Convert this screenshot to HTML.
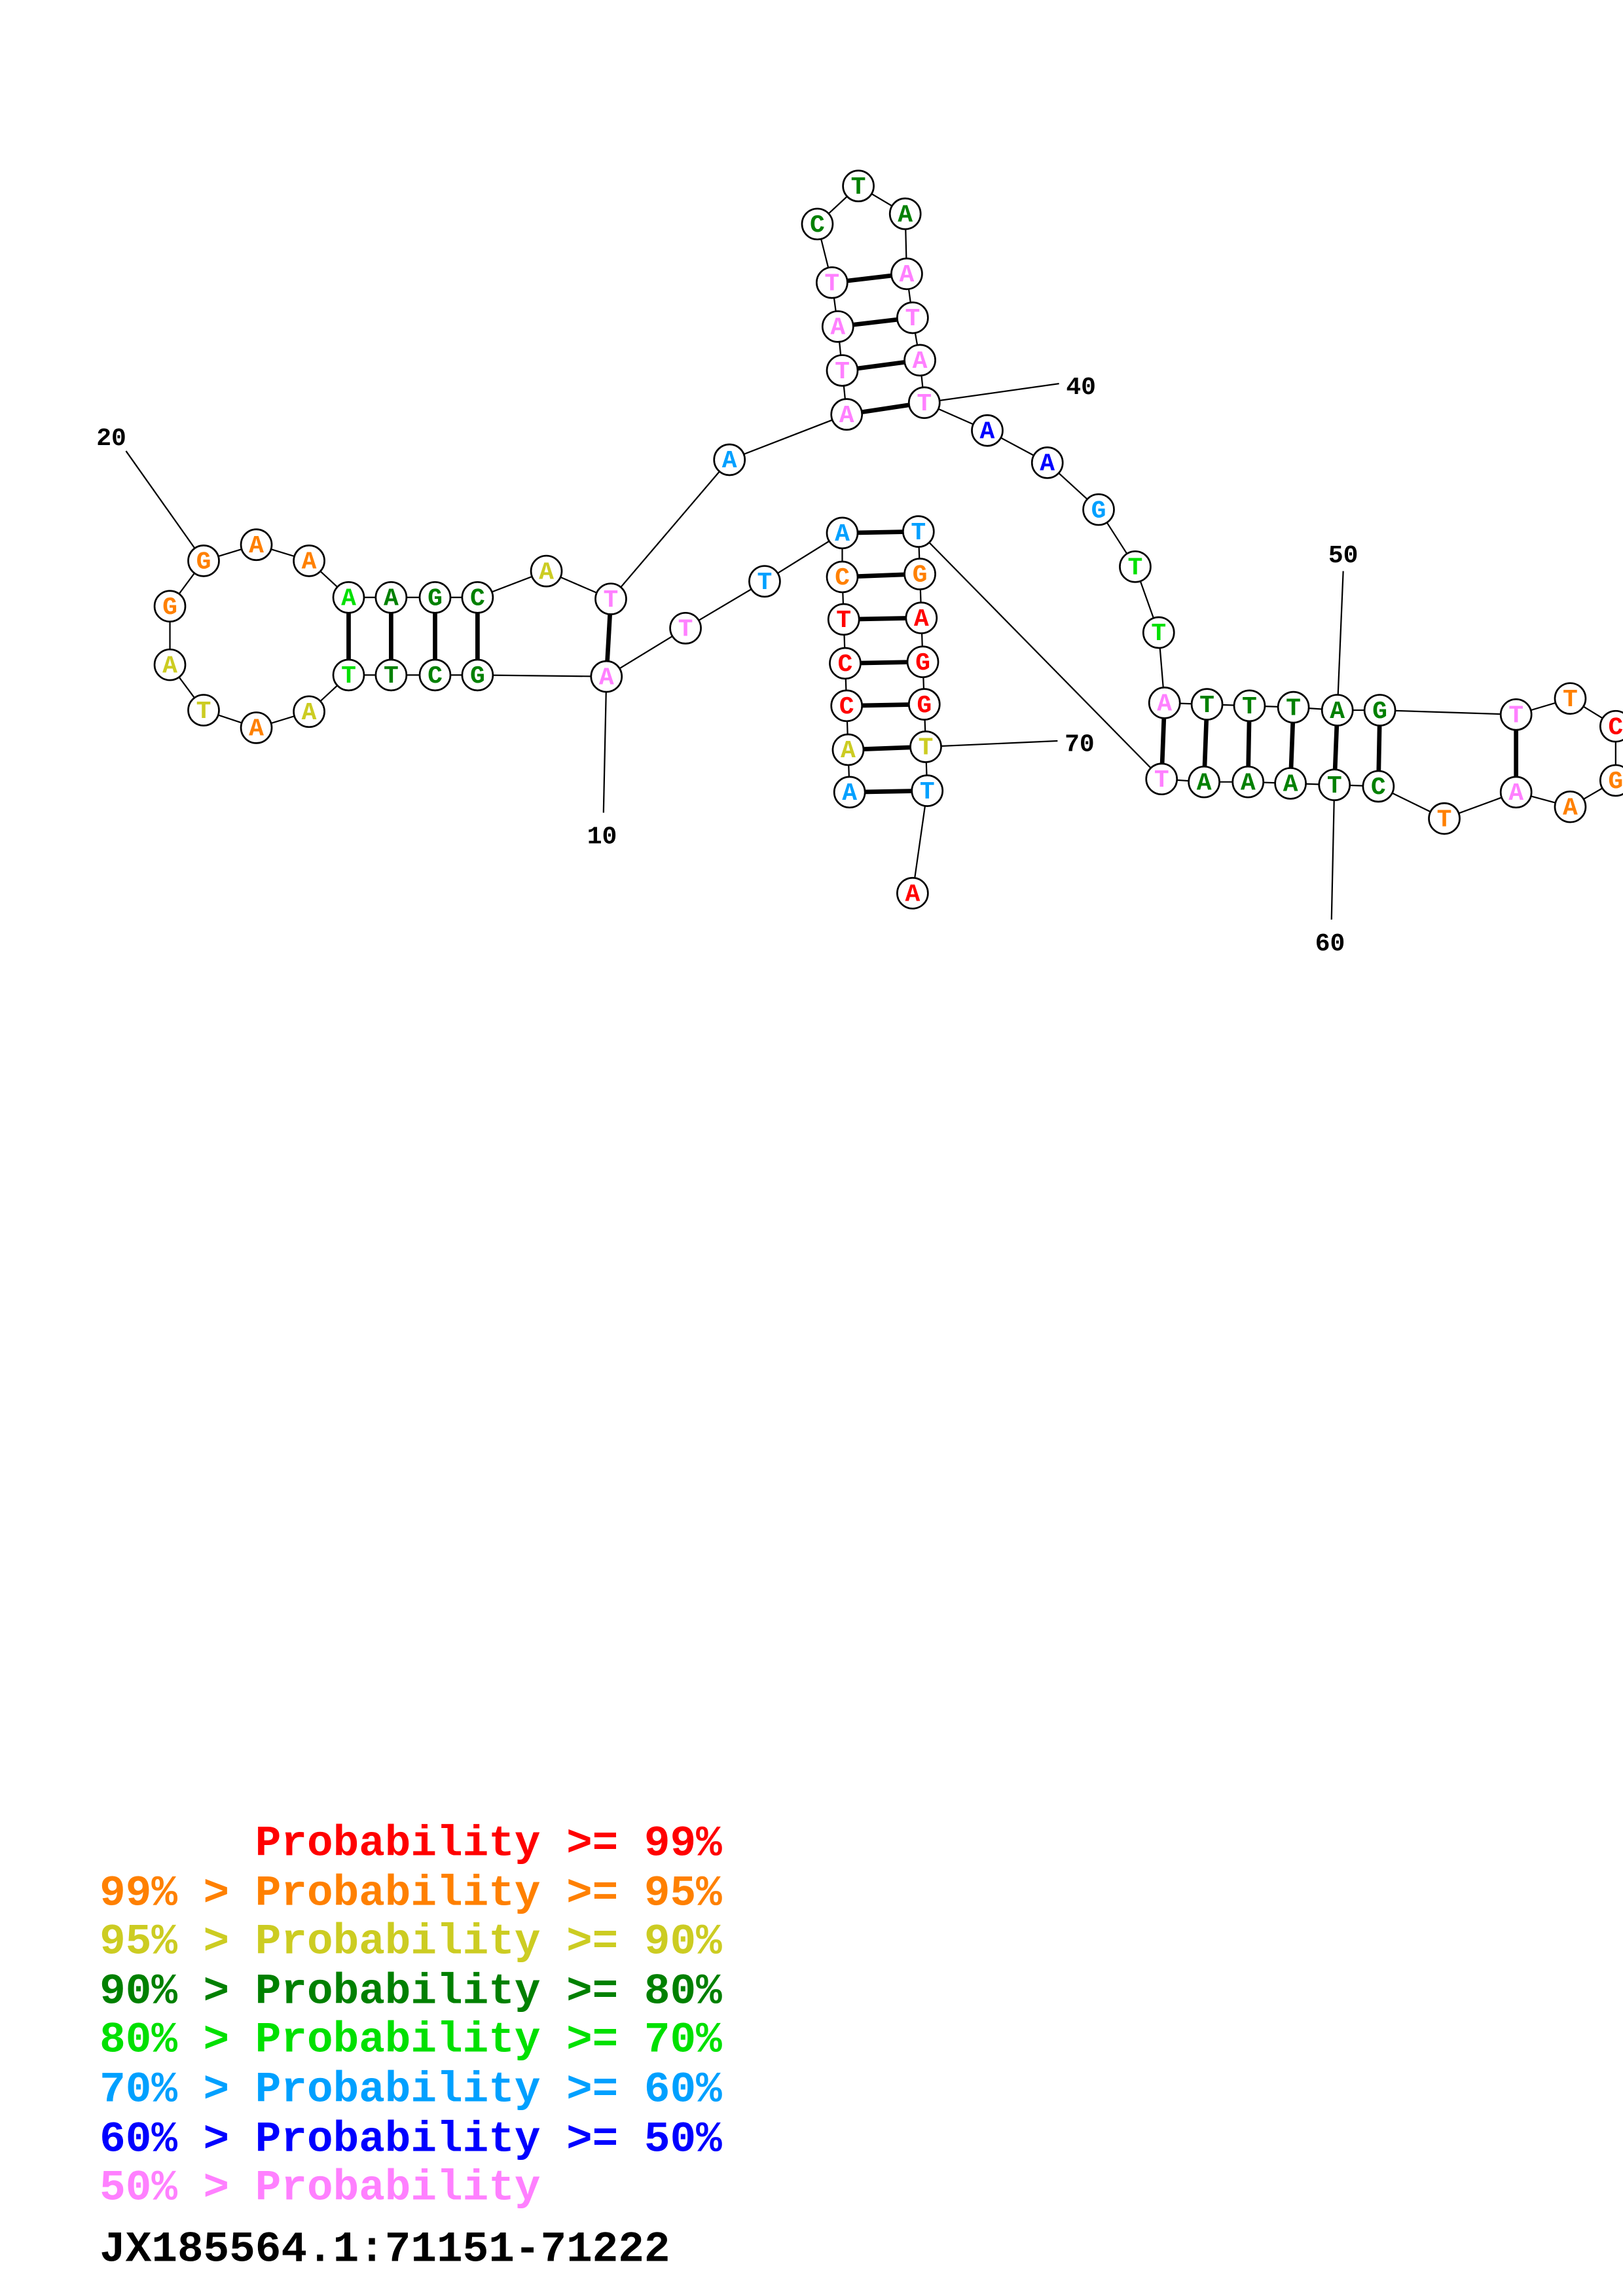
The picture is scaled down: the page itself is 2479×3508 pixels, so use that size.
<!DOCTYPE html>
<html><head><meta charset="utf-8"><style>
html,body{margin:0;padding:0;background:#fff}
svg{display:block}
.n circle{fill:#fff;stroke:#000;stroke-width:1.2}
text{font-family:"Liberation Mono",monospace;font-weight:bold}
.n text{font-size:17px;text-anchor:middle;dominant-baseline:central}
.R{fill:#ff0000}.O{fill:#ff8000}.Y{fill:#cccc22}.D{fill:#008000}.L{fill:#00e000}.S{fill:#00a0ff}.B{fill:#0000ff}.P{fill:#ff80ff}
.bb{fill:none;stroke:#000;stroke-width:1}
.pr{stroke:#000;stroke-width:3}
.lbl{font-size:17px;fill:#000}
.lg{font-size:29.5px;white-space:pre}
</style></head><body>
<svg width="2479" height="3508" viewBox="0 0 1108 1568" preserveAspectRatio="none" xmlns="http://www.w3.org/2000/svg">
<rect width="1108" height="1568" fill="#fff"/>
<polyline class="bb" points="580,541 579,512 578,482 577,453 576,423 575,394 575,364 522,397 468,429 414,462 326,461 297,461 267,461 238,461 211,486 175,497 139,485 116,454 116,414 139,383 175,372 211,383 238,408 267,408 297,408 326,408 373,390 417,409 498,314 578,283 575,253 572,223 568,193 558,153 586,127 618,146 619,187 623,217 628,246 631,275 674,294 715,316 750,348 775,387 791,432 795,480 824,481 853,482 883,483 913,485 942,485 1035,488 1072,477 1103,496 1103,533 1072,551 1035,541 986,559 941,537 911,536 881,535 852,534 822,534 793,532 627,363 628,392 629,422 630,452 631,481 632,510 633,540 623,610"/>
<g class="pr">
<line x1="238" y1="408" x2="238" y2="461"/><line x1="267" y1="408" x2="267" y2="461"/><line x1="297" y1="408" x2="297" y2="461"/><line x1="326" y1="408" x2="326" y2="461"/><line x1="417" y1="409" x2="414" y2="462"/>
<line x1="568" y1="193" x2="619" y2="187"/><line x1="572" y1="223" x2="623" y2="217"/><line x1="575" y1="253" x2="628" y2="246"/><line x1="578" y1="283" x2="631" y2="275"/>
<line x1="795" y1="480" x2="793" y2="532"/><line x1="824" y1="481" x2="822" y2="534"/><line x1="853" y1="482" x2="852" y2="534"/><line x1="883" y1="483" x2="881" y2="535"/><line x1="913" y1="485" x2="911" y2="536"/><line x1="942" y1="485" x2="941" y2="537"/><line x1="1035" y1="488" x2="1035" y2="541"/>
<line x1="575" y1="364" x2="627" y2="363"/><line x1="575" y1="394" x2="628" y2="392"/><line x1="576" y1="423" x2="629" y2="422"/><line x1="577" y1="453" x2="630" y2="452"/><line x1="578" y1="482" x2="631" y2="481"/><line x1="579" y1="512" x2="632" y2="510"/><line x1="580" y1="541" x2="633" y2="540"/>
</g>
<g class="bb">
<line x1="86" y1="308" x2="139" y2="383"/><line x1="414" y1="462" x2="412" y2="555"/><line x1="631" y1="275" x2="723" y2="262"/><line x1="913" y1="485" x2="917" y2="390"/><line x1="911" y1="536" x2="909" y2="628"/><line x1="632" y1="510" x2="722" y2="506"/>
</g>
<text class="lbl" x="76" y="304" text-anchor="middle">20</text>
<text class="lbl" x="411" y="576" text-anchor="middle">10</text>
<text class="lbl" x="738" y="269" text-anchor="middle">40</text>
<text class="lbl" x="917" y="384" text-anchor="middle">50</text>
<text class="lbl" x="908" y="649" text-anchor="middle">60</text>
<text class="lbl" x="737" y="513" text-anchor="middle">70</text>
<g class="n">
<g><circle cx="580" cy="541" r="10.5"/><text x="580" y="542" class="S">A</text></g>
<g><circle cx="579" cy="512" r="10.5"/><text x="579" y="513" class="Y">A</text></g>
<g><circle cx="578" cy="482" r="10.5"/><text x="578" y="483" class="R">C</text></g>
<g><circle cx="577" cy="453" r="10.5"/><text x="577" y="454" class="R">C</text></g>
<g><circle cx="576" cy="423" r="10.5"/><text x="576" y="424" class="R">T</text></g>
<g><circle cx="575" cy="394" r="10.5"/><text x="575" y="395" class="O">C</text></g>
<g><circle cx="575" cy="364" r="10.5"/><text x="575" y="365" class="S">A</text></g>
<g><circle cx="522" cy="397" r="10.5"/><text x="522" y="398" class="S">T</text></g>
<g><circle cx="468" cy="429" r="10.5"/><text x="468" y="430" class="P">T</text></g>
<g><circle cx="414" cy="462" r="10.5"/><text x="414" y="463" class="P">A</text></g>
<g><circle cx="326" cy="461" r="10.5"/><text x="326" y="462" class="D">G</text></g>
<g><circle cx="297" cy="461" r="10.5"/><text x="297" y="462" class="D">C</text></g>
<g><circle cx="267" cy="461" r="10.5"/><text x="267" y="462" class="D">T</text></g>
<g><circle cx="238" cy="461" r="10.5"/><text x="238" y="462" class="L">T</text></g>
<g><circle cx="211" cy="486" r="10.5"/><text x="211" y="487" class="Y">A</text></g>
<g><circle cx="175" cy="497" r="10.5"/><text x="175" y="498" class="O">A</text></g>
<g><circle cx="139" cy="485" r="10.5"/><text x="139" y="486" class="Y">T</text></g>
<g><circle cx="116" cy="454" r="10.5"/><text x="116" y="455" class="Y">A</text></g>
<g><circle cx="116" cy="414" r="10.5"/><text x="116" y="415" class="O">G</text></g>
<g><circle cx="139" cy="383" r="10.5"/><text x="139" y="384" class="O">G</text></g>
<g><circle cx="175" cy="372" r="10.5"/><text x="175" y="373" class="O">A</text></g>
<g><circle cx="211" cy="383" r="10.5"/><text x="211" y="384" class="O">A</text></g>
<g><circle cx="238" cy="408" r="10.5"/><text x="238" y="409" class="L">A</text></g>
<g><circle cx="267" cy="408" r="10.5"/><text x="267" y="409" class="D">A</text></g>
<g><circle cx="297" cy="408" r="10.5"/><text x="297" y="409" class="D">G</text></g>
<g><circle cx="326" cy="408" r="10.5"/><text x="326" y="409" class="D">C</text></g>
<g><circle cx="373" cy="390" r="10.5"/><text x="373" y="391" class="Y">A</text></g>
<g><circle cx="417" cy="409" r="10.5"/><text x="417" y="410" class="P">T</text></g>
<g><circle cx="498" cy="314" r="10.5"/><text x="498" y="315" class="S">A</text></g>
<g><circle cx="578" cy="283" r="10.5"/><text x="578" y="284" class="P">A</text></g>
<g><circle cx="575" cy="253" r="10.5"/><text x="575" y="254" class="P">T</text></g>
<g><circle cx="572" cy="223" r="10.5"/><text x="572" y="224" class="P">A</text></g>
<g><circle cx="568" cy="193" r="10.5"/><text x="568" y="194" class="P">T</text></g>
<g><circle cx="558" cy="153" r="10.5"/><text x="558" y="154" class="D">C</text></g>
<g><circle cx="586" cy="127" r="10.5"/><text x="586" y="128" class="D">T</text></g>
<g><circle cx="618" cy="146" r="10.5"/><text x="618" y="147" class="D">A</text></g>
<g><circle cx="619" cy="187" r="10.5"/><text x="619" y="188" class="P">A</text></g>
<g><circle cx="623" cy="217" r="10.5"/><text x="623" y="218" class="P">T</text></g>
<g><circle cx="628" cy="246" r="10.5"/><text x="628" y="247" class="P">A</text></g>
<g><circle cx="631" cy="275" r="10.5"/><text x="631" y="276" class="P">T</text></g>
<g><circle cx="674" cy="294" r="10.5"/><text x="674" y="295" class="B">A</text></g>
<g><circle cx="715" cy="316" r="10.5"/><text x="715" y="317" class="B">A</text></g>
<g><circle cx="750" cy="348" r="10.5"/><text x="750" y="349" class="S">G</text></g>
<g><circle cx="775" cy="387" r="10.5"/><text x="775" y="388" class="L">T</text></g>
<g><circle cx="791" cy="432" r="10.5"/><text x="791" y="433" class="L">T</text></g>
<g><circle cx="795" cy="480" r="10.5"/><text x="795" y="481" class="P">A</text></g>
<g><circle cx="824" cy="481" r="10.5"/><text x="824" y="482" class="D">T</text></g>
<g><circle cx="853" cy="482" r="10.5"/><text x="853" y="483" class="D">T</text></g>
<g><circle cx="883" cy="483" r="10.5"/><text x="883" y="484" class="D">T</text></g>
<g><circle cx="913" cy="485" r="10.5"/><text x="913" y="486" class="D">A</text></g>
<g><circle cx="942" cy="485" r="10.5"/><text x="942" y="486" class="D">G</text></g>
<g><circle cx="1035" cy="488" r="10.5"/><text x="1035" y="489" class="P">T</text></g>
<g><circle cx="1072" cy="477" r="10.5"/><text x="1072" y="478" class="O">T</text></g>
<g><circle cx="1103" cy="496" r="10.5"/><text x="1103" y="497" class="R">C</text></g>
<g><circle cx="1103" cy="533" r="10.5"/><text x="1103" y="534" class="O">G</text></g>
<g><circle cx="1072" cy="551" r="10.5"/><text x="1072" y="552" class="O">A</text></g>
<g><circle cx="1035" cy="541" r="10.5"/><text x="1035" y="542" class="P">A</text></g>
<g><circle cx="986" cy="559" r="10.5"/><text x="986" y="560" class="O">T</text></g>
<g><circle cx="941" cy="537" r="10.5"/><text x="941" y="538" class="D">C</text></g>
<g><circle cx="911" cy="536" r="10.5"/><text x="911" y="537" class="D">T</text></g>
<g><circle cx="881" cy="535" r="10.5"/><text x="881" y="536" class="D">A</text></g>
<g><circle cx="852" cy="534" r="10.5"/><text x="852" y="535" class="D">A</text></g>
<g><circle cx="822" cy="534" r="10.5"/><text x="822" y="535" class="D">A</text></g>
<g><circle cx="793" cy="532" r="10.5"/><text x="793" y="533" class="P">T</text></g>
<g><circle cx="627" cy="363" r="10.5"/><text x="627" y="364" class="S">T</text></g>
<g><circle cx="628" cy="392" r="10.5"/><text x="628" y="393" class="O">G</text></g>
<g><circle cx="629" cy="422" r="10.5"/><text x="629" y="423" class="R">A</text></g>
<g><circle cx="630" cy="452" r="10.5"/><text x="630" y="453" class="R">G</text></g>
<g><circle cx="631" cy="481" r="10.5"/><text x="631" y="482" class="R">G</text></g>
<g><circle cx="632" cy="510" r="10.5"/><text x="632" y="511" class="Y">T</text></g>
<g><circle cx="633" cy="540" r="10.5"/><text x="633" y="541" class="S">T</text></g>
<g><circle cx="623" cy="610" r="10.5"/><text x="623" y="611" class="R">A</text></g>
</g>
<text class="lg R" x="68" y="1267" xml:space="preserve">      Probability &gt;= 99%</text>
<text class="lg O" x="68" y="1301" xml:space="preserve">99% &gt; Probability &gt;= 95%</text>
<text class="lg Y" x="68" y="1334" xml:space="preserve">95% &gt; Probability &gt;= 90%</text>
<text class="lg D" x="68" y="1368" xml:space="preserve">90% &gt; Probability &gt;= 80%</text>
<text class="lg L" x="68" y="1401" xml:space="preserve">80% &gt; Probability &gt;= 70%</text>
<text class="lg S" x="68" y="1435" xml:space="preserve">70% &gt; Probability &gt;= 60%</text>
<text class="lg B" x="68" y="1469" xml:space="preserve">60% &gt; Probability &gt;= 50%</text>
<text class="lg P" x="68" y="1502" xml:space="preserve">50% &gt; Probability</text>
<text class="lg" x="68" y="1544" fill="#000">JX185564.1:71151-71222</text>
</svg>
</body></html>
